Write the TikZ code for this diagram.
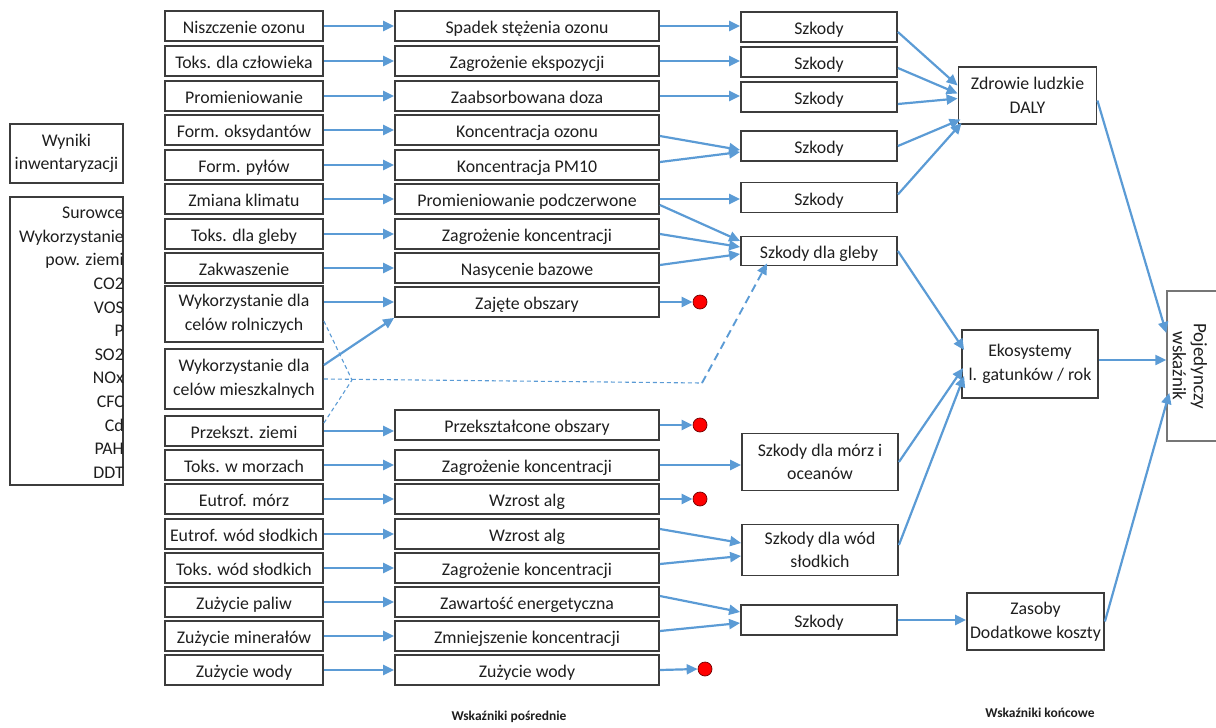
\documentclass[tikz,border=0pt]{standalone}
\usepackage{fontspec}
\setmainfont{Carlito}
\usetikzlibrary{arrows.meta,calc}
\definecolor{flow}{RGB}{91,155,213}
\definecolor{edge}{RGB}{60,60,60}
\definecolor{ink}{RGB}{30,30,30}
\begin{document}
\begin{tikzpicture}[x=1pt,y=-1pt,
  bx/.style={draw=edge,line width=1.8pt,inner sep=0pt,align=center,text=ink,
    font=\fontsize{17.8}{23.5}\selectfont},
  sl/.style={text height=16pt,text depth=1pt},
  ml/.style={text height=,text depth=},
  c1/.style={bx,sl,minimum width=158pt,minimum height=30pt},
  c2/.style={bx,sl,minimum width=264pt,minimum height=30pt},
  c3/.style={bx,sl,minimum width=156pt,minimum height=30pt},
  c4/.style={bx,minimum width=138pt,minimum height=57pt},
  enddot/.style={circle,fill=red,draw=red!45!black,line width=0.7pt,minimum size=14pt,inner sep=0pt},
  flowarrow/.style={draw=flow,line width=2.2pt,-{Triangle[length=11pt,width=10pt]}},
  fineline/.style={draw=flow,line width=1.1pt,dash pattern=on 4pt off 3pt},
  risearrow/.style={draw=flow,line width=1.9pt,dash pattern=on 8pt off 5pt,-{Triangle[length=11pt,width=10pt]}},
  caption/.style={text=ink,font=\bfseries\fontsize{13.5}{16}\selectfont}
]
\useasboundingbox (0,0) rectangle (1216,728);

% inventory boxes
\node[bx,minimum width=113pt,minimum height=59pt] (wyn) at (66.5,153.5) {Wyniki\\inwentaryzacji};
\node[bx,minimum width=113pt,minimum height=288pt] (inv) at (66.5,341) {};
\node[anchor=north east,align=right,inner sep=0pt,text=ink,font=\fontsize{17.8}{23.6}\selectfont] (invlist) at (124,207)
  {Surowce\\Wykorzystanie\\pow. ziemi\\CO2\\VOS\\P\\SO2\\NOx\\CFC\\Cd\\PAH\\DDT};

% impact categories
\node[c1] (a1) at (244,26) {Niszczenie ozonu};
\node[c1] (a2) at (244,61) {Toks. dla człowieka};
\node[c1] (a3) at (244,96) {Promieniowanie};
\node[c1] (a4) at (244,130) {Form. oksydantów};
\node[c1] (a5) at (244,165) {Form. pyłów};
\node[c1] (a6) at (244,199) {Zmiana klimatu};
\node[c1] (a7) at (244,234) {Toks. dla gleby};
\node[c1] (a8) at (244,268) {Zakwaszenie};
\node[c1,ml,minimum height=56pt] (a9) at (244,314) {Wykorzystanie dla\\celów rolniczych};
\node[c1,ml,minimum height=60pt] (a10) at (244,379) {Wykorzystanie dla\\celów mieszkalnych};
\node[c1] (a11) at (244,431) {Przekszt. ziemi};
\node[c1] (a12) at (244,465) {Toks. w morzach};
\node[c1] (a13) at (244,499) {Eutrof. mórz};
\node[c1] (a14) at (244,534) {Eutrof. wód słodkich};
\node[c1] (a15) at (244,568) {Toks. wód słodkich};
\node[c1] (a16) at (244,602) {Zużycie paliw};
\node[c1] (a17) at (244,636) {Zużycie minerałów};
\node[c1] (a18) at (244,670) {Zużycie wody};

% midpoint indicators
\node[c2] (b1) at (527,26) {Spadek stężenia ozonu};
\node[c2] (b2) at (527,61) {Zagrożenie ekspozycji};
\node[c2] (b3) at (527,96) {Zaabsorbowana doza};
\node[c2] (b4) at (527,130) {Koncentracja ozonu};
\node[c2] (b5) at (527,165) {Koncentracja PM10};
\node[c2] (b6) at (527,199) {Promieniowanie podczerwone};
\node[c2] (b7) at (527,234) {Zagrożenie koncentracji};
\node[c2] (b8) at (527,268) {Nasycenie bazowe};
\node[c2] (b9) at (527,302) {Zajęte obszary};
\node[c2] (b10) at (527,425) {Przekształcone obszary};
\node[c2] (b11) at (527,465) {Zagrożenie koncentracji};
\node[c2] (b12) at (527,499) {Wzrost alg};
\node[c2] (b13) at (527,534) {Wzrost alg};
\node[c2] (b14) at (527,568) {Zagrożenie koncentracji};
\node[c2] (b15) at (527,602) {Zawartość energetyczna};
\node[c2] (b16) at (527,636) {Zmniejszenie koncentracji};
\node[c2] (b17) at (527,670) {Zużycie wody};

% damage boxes
\node[c3] (s1) at (819,27) {Szkody};
\node[c3] (s2) at (819,62) {Szkody};
\node[c3] (s3) at (819,97) {Szkody};
\node[c3] (s4) at (819,146) {Szkody};
\node[c3] (s5) at (819,197.5) {Szkody};
\node[c3,minimum height=29pt] (s6) at (819,251) {Szkody dla gleby};
\node[c3,ml,minimum height=57pt] (s7) at (820,462) {Szkody dla mórz i\\oceanów};
\node[c3,ml,minimum height=51pt] (s8) at (820,550) {Szkody dla wód\\słodkich};
\node[c3] (s9) at (819,620) {Szkody};

% endpoint indicators
\node[c4] (z) at (1027.5,95.5) {Zdrowie ludzkie\\DALY};
\node[c4,minimum width=136pt,minimum height=68pt] (e) at (1030,364) {Ekosystemy\\l. gatunków / rok};
\node[c4,minimum width=137pt] (zs) at (1035.5,621.5) {Zasoby\\Dodatkowe koszty};
\node[draw=edge!70,line width=1.4pt,minimum width=54pt,minimum height=150pt,inner sep=0pt] (p) at (1194,366) {};
\node[rotate=-90,align=center,inner sep=0pt,text=ink,font=\fontsize{19}{21}\selectfont] (ptext) at (1190,366) {Pojedynczy\\wskaźnik};

% dead ends
\node[enddot] (d1) at (700,302) {};
\node[enddot] (d2) at (700,425) {};
\node[enddot] (d3) at (700,499) {};
\node[enddot] (d4) at (705,669) {};

% captions
\node[caption] (l1) at (509,717) {Wskaźniki pośrednie};
\node[caption] (l2) at (1040,713) {Wskaźniki końcowe};

% categories -> midpoints
\foreach \i/\j in {1/1,2/2,3/3,4/4,5/5,6/6,7/7,8/8,12/11,13/12,14/13,15/14,16/15,17/16,18/17}
  \draw[flowarrow] (a\i.east) -- (a\i.east -| b\j.west);
\draw[flowarrow] (a9.east |- b9.west) -- (b9.west);
\draw[flowarrow] ([yshift=14pt]a10.east) -- (b9.south west);
\draw[flowarrow] (a11.east) -- (a11.east -| b10.west);

% land use dashed branch
\coordinate (dm) at (352,380);
\coordinate (dk) at (702,383);
\draw[fineline] ([yshift=-7pt]a9.east) -- (dm);
\draw[fineline] ([yshift=8pt]a11.east) -- (dm);
\draw[fineline] (a10.east) -- (dk);
\draw[risearrow] (dk) -- ([xshift=27pt,yshift=3pt]s6.south west);

% midpoints -> damages
\draw[flowarrow] (b1.east) -- (b1.east -| s1.west);
\draw[flowarrow] (b2.east) -- (b2.east -| s2.west);
\draw[flowarrow] (b3.east) -- (b3.east -| s3.west);
\draw[flowarrow] ([yshift=-6pt]b4.east) -- ([yshift=-4pt]s4.west);
\draw[flowarrow] ([yshift=3pt]b5.east) -- ([yshift=-6pt]s4.west);
\draw[flowarrow] (b6.east) -- (b6.east -| s5.west);
\draw[flowarrow] ([yshift=-6pt]b6.east) -- ([yshift=10pt]s6.west);
\draw[flowarrow] (b7.east) -- ([yshift=4pt]s6.west);
\draw[flowarrow] ([yshift=3pt]b8.east) -- ([yshift=-3pt]s6.west);
\draw[flowarrow] (b9.east) -- (d1.west);
\draw[flowarrow] (b10.east) -- (d2.west);
\draw[flowarrow] (b11.east) -- (b11.east -| s7.west);
\draw[flowarrow] (b12.east) -- (d3.west);
\draw[flowarrow] ([yshift=5pt]b13.east) -- ([yshift=7pt]s8.west);
\draw[flowarrow] ([yshift=4pt]b14.east) -- ([yshift=-6pt]s8.west);
\draw[flowarrow] ([yshift=6pt]b15.east) -- ([yshift=8pt]s9.west);
\draw[flowarrow] ([yshift=5pt]b16.east) -- ([yshift=-3pt]s9.west);
\draw[flowarrow] (b17.east) -- (d4.west);

% damages -> endpoints
\draw[flowarrow] ([yshift=-5pt]s1.east) -- ([yshift=10pt]z.west);
\draw[flowarrow] ([yshift=-6pt]s2.east) -- ([yshift=2pt]z.west);
\draw[flowarrow] ([yshift=-7pt]s3.east) -- ([yshift=-3pt]z.west);
\draw[flowarrow] (s4.east) -- ([xshift=3pt,yshift=-24pt]z.west);
\draw[flowarrow] ([yshift=3pt]s5.east) -- ([xshift=4pt,yshift=2pt]z.south west);
\draw[flowarrow] (s6.east) -- ([xshift=3pt,yshift=14pt]e.west);
\draw[flowarrow] (s7.east) -- ([xshift=2pt,yshift=-4pt]e.west);
\draw[flowarrow] ([yshift=5pt]s8.east) -- ([xshift=3pt,yshift=-12pt]e.west);
\draw[flowarrow] (s9.east) -- (s9.east -| zs.west);

% endpoints -> single score
\draw[flowarrow] ([yshift=-5pt]z.east) -- ([yshift=33pt]p.west);
\draw[flowarrow] ([yshift=4pt]e.east) -- ([yshift=6pt]p.west);
\draw[flowarrow] (zs.east) -- ([xshift=3pt,yshift=-27pt]p.west);
\end{tikzpicture}
\end{document}
